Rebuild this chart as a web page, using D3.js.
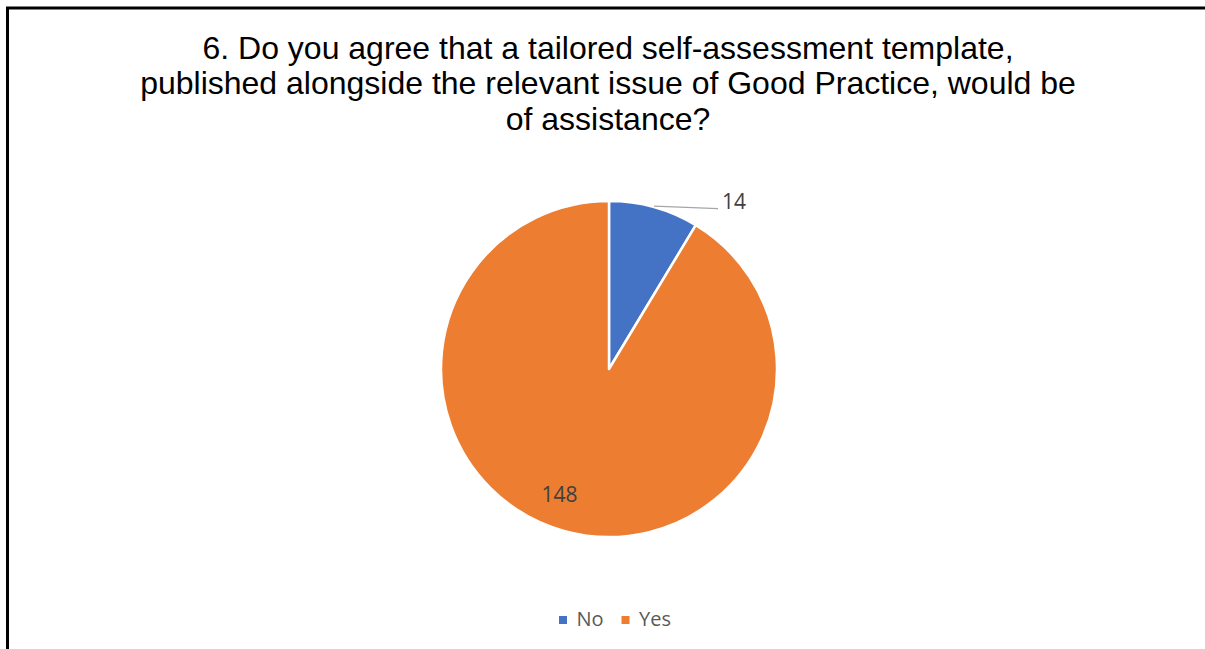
<!DOCTYPE html>
<html>
<head>
<meta charset="utf-8">
<script src="https://cdn.jsdelivr.net/npm/d3@7"></script>
<style>
  body { margin: 0; background: #fff; }
  svg { display: block; }
</style>
</head>
<body>
<svg id="chart"></svg>
<script>
// chart data
const categories = ["No", "Yes"];
const counts = [14, 148];
const titleLines = [
    "6. Do you agree that a tailored self-assessment template,",
    "published alongside the relevant issue of Good Practice, would be",
    "of assistance?"
];

const width = 1205, height = 649;
const cx = 609, cy = 369, radius = 168;

const svg = d3.select("#chart")
    .attr("width", width)
    .attr("height", height)
    .attr("viewBox", [0, 0, width, height]);

// frame (only left and top are visible in the crop)
svg.append("path")
    .attr("d", `M7.5,${height} V8 H${width}`)
    .attr("fill", "none")
    .attr("stroke", "#000")
    .attr("stroke-width", 3);

const color = d3.scaleOrdinal(categories, ["#4472c4", "#ed7d31"]);

// title
svg.append("g")
    .selectAll("text")
    .data(titleLines)
    .join("text")
        .attr("x", 608)
        .attr("y", (d, i) => 58.5 + i * 35.5)
        .attr("text-anchor", "middle")
        .style("font-family", "'Liberation Sans', Arial, sans-serif")
        .style("font-size", "32px")
        .style("fill", "#000")
        .text(d => d);

const data = categories.map((c, i) => ({ key: c, value: counts[i] }));
const pie = d3.pie().sort(null).value(d => d.value);
const arcs = pie(data);
const arc = d3.arc().innerRadius(0).outerRadius(radius);

const g = svg.append("g").attr("transform", `translate(${cx}, ${cy})`);

g.selectAll("path.slice")
    .data(arcs)
    .join("path")
        .classed("slice", true)
        .attr("d", arc)
        .attr("fill", d => color(d.data.key))
        .attr("stroke", "#fff")
        .attr("stroke-width", 2.5)
        .attr("stroke-linejoin", "round");

// labels: the small slice gets a callout outside, the big one sits inside
const mid = d => (d.startAngle + d.endAngle) / 2;
const labelFont = "'Open Sans', 'Noto Sans', sans-serif";

arcs.forEach(d => {
    const a = mid(d);
    if (d.data.value < 30) {
        const p0 = [Math.sin(a) * radius, -Math.cos(a) * (radius + 1)];
        const p1 = [p0[0] + 64, p0[1] + 2.5];
        g.append("polyline")
            .attr("points", [p0, p1].map(p => p.join(",")).join(" "))
            .attr("fill", "none")
            .attr("stroke", "#a6a6a6")
            .attr("stroke-width", 1.3);
        g.append("text")
            .attr("x", p1[0] + 4)
            .attr("y", p1[1] + 0.5)
            .style("font-family", labelFont)
            .style("font-size", "21px")
            .style("fill", "#404040")
            .text(d.data.value);
    } else {
        // inside label, nudged a little round like the original
        const la = a + 6 * Math.PI / 180, r = radius * 0.8;
        g.append("text")
            .attr("x", Math.sin(la) * r)
            .attr("y", -Math.cos(la) * r + 7.5)
            .attr("text-anchor", "middle")
            .style("font-family", labelFont)
            .style("font-size", "21px")
            .style("fill", "#404040")
            .text(d.data.value);
    }
});

// legend
const legend = svg.append("g").attr("transform", "translate(559, 626)");
const offsets = [0, 62.5];
const items = legend.selectAll("g")
    .data(categories)
    .join("g")
        .attr("transform", (d, i) => `translate(${offsets[i]}, 0)`);

items.append("rect")
    .attr("x", 0)
    .attr("y", -10)
    .attr("width", 8)
    .attr("height", 8)
    .attr("fill", d => color(d));

items.append("text")
    .attr("x", 17.5)
    .attr("y", 0)
    .style("font-family", labelFont)
    .style("font-size", "20px")
    .style("fill", "#595959")
    .text(d => d);
</script>
</body>
</html>
